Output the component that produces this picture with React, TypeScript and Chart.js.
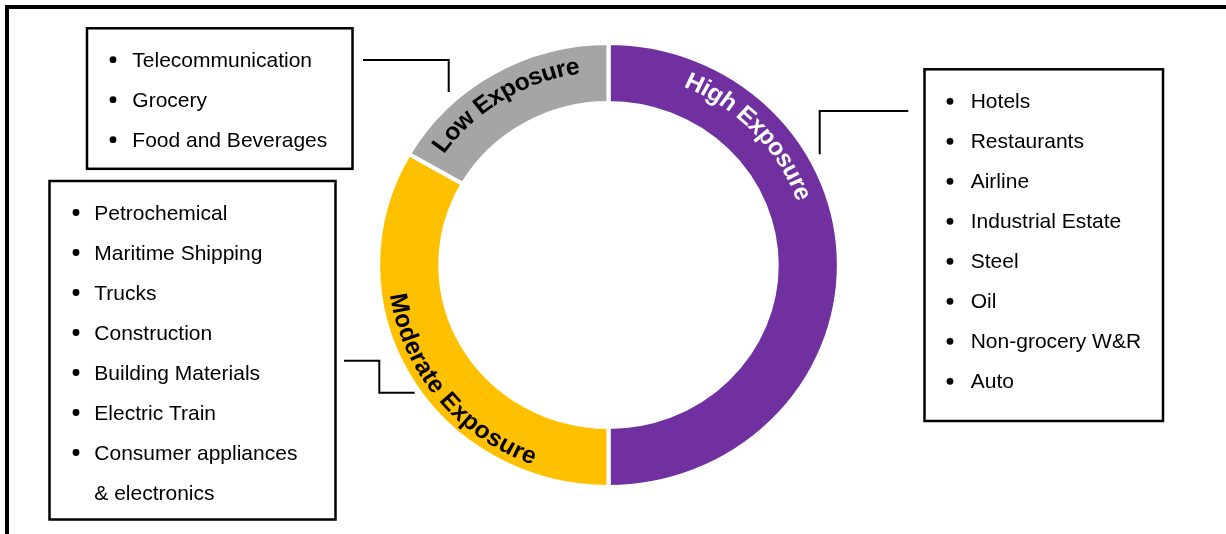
import { useEffect, useRef } from 'react';
import { Chart, registerables } from 'chart.js';

Chart.register(...registerables);

// ---- data ----
const segmentLabels = ['High Exposure', 'Moderate Exposure', 'Low Exposure'];
const segmentShares = [3, 2, 1];
const segmentColors = ['#7030A0', '#FFC000', '#A5A5A5'];
const labelColors = ['#FFFFFF', '#000000', '#000000'];

const highItems = ['Hotels', 'Restaurants', 'Airline', 'Industrial Estate', 'Steel', 'Oil', 'Non-grocery W&R', 'Auto'];
const moderateItems = ['Petrochemical', 'Maritime Shipping', 'Trucks', 'Construction', 'Building Materials', 'Electric Train', 'Consumer appliances\n& electronics'];
const lowItems = ['Telecommunication', 'Grocery', 'Food and Beverages'];

// ---- layout / style ----
const FONT_FAMILY = '"Liberation Sans", Arial, Helvetica, sans-serif';
const STRETCH_X = 1.038;
const OUTER_R = 222;
const INNER_R = 162;
// where along each arc the label is centred (fraction of the arc) and whether it reads clockwise (tops outward)
const labelPlacement = [
  { frac: 0.258, outward: true, r: 199 },
  { frac: 0.425, outward: false, r: 206 },
  { frac: 0.475, outward: true, r: 200 },
];

const boxLayout = [
  { items: highItems, x: 924.5, y: 69.3, w: 238.5, h: 351.7, bulletX: 950, textX: 970.7, baseline: 108.3 },
  { items: moderateItems, x: 49.5, y: 181, w: 286, h: 338.5, bulletX: 76, textX: 94.3, baseline: 219.5 },
  { items: lowItems, x: 87, y: 28.3, w: 265.5, h: 140.5, bulletX: 113, textX: 132.3, baseline: 66.7 },
];

const connectors: number[][][] = [
  [[908.3, 111], [819.7, 111], [819.7, 154.3]],
  [[344, 360.7], [379.3, 360.7], [379.3, 392.7], [414.7, 392.7]],
  [[363, 60], [448.7, 60], [448.7, 92]],
];

function drawArcText(
  ctx: CanvasRenderingContext2D,
  text: string,
  cx: number,
  cy: number,
  r: number,
  centerAngle: number,
  outward: boolean,
  color: string,
) {
  ctx.save();
  ctx.font = `bold 24px ${FONT_FAMILY}`;
  ctx.fillStyle = color;
  ctx.textAlign = 'center';
  ctx.textBaseline = 'middle';
  const chars = Array.from(text);
  const total = ctx.measureText(text).width;
  const widths = chars.map((c) => ctx.measureText(c).width);
  const sum = widths.reduce((s, w) => s + w, 0);
  const k = total / sum;
  const dir = outward ? 1 : -1;
  let theta = centerAngle - (dir * total) / 2 / r;
  chars.forEach((c, i) => {
    const w = widths[i] * k;
    const mid = theta + (dir * w) / 2 / r;
    const px = cx + r * Math.sin(mid);
    const py = cy - r * Math.cos(mid);
    ctx.save();
    ctx.translate(px, py);
    ctx.rotate(outward ? mid : mid - Math.PI);
    ctx.fillText(c, 0, 0);
    ctx.restore();
    theta += (dir * w) / r;
  });
  ctx.restore();
}

const ringPlugin = {
  id: 'ringDecor',
  beforeDatasetsDraw(chart: any) {
    const arc = chart.getDatasetMeta(0).data[0] as any;
    const ctx = chart.ctx as CanvasRenderingContext2D;
    ctx.save();
    ctx.translate(arc.x, arc.y);
    ctx.scale(STRETCH_X, 1);
    ctx.translate(-arc.x, -arc.y);
  },
  afterDatasetsDraw(chart: any) {
    const ctx = chart.ctx as CanvasRenderingContext2D;
    const arcs = chart.getDatasetMeta(0).data as any[];
    arcs.forEach((arc, i) => {
      const p = labelPlacement[i];
      // chart.js angles: 0 = 3 o'clock; convert to clockwise-from-top
      const s = arc.startAngle + Math.PI / 2;
      const e = arc.endAngle + Math.PI / 2;
      const ang = s + (e - s) * p.frac;
      drawArcText(ctx, segmentLabels[i], arc.x, arc.y, p.r, ang, p.outward, labelColors[i]);
    });
    ctx.restore();
  },
  afterDraw(chart: any) {
    const ctx = chart.ctx as CanvasRenderingContext2D;
    ctx.save();
    // outer frame (top and left edges)
    ctx.fillStyle = '#000000';
    ctx.fillRect(5, 5, 1221, 4);
    ctx.fillRect(5, 5, 4, 529);

    // connectors
    ctx.strokeStyle = '#000000';
    ctx.lineWidth = 2;
    ctx.lineJoin = 'miter';
    connectors.forEach((pts) => {
      ctx.beginPath();
      pts.forEach(([x, y], j) => (j === 0 ? ctx.moveTo(x, y) : ctx.lineTo(x, y)));
      ctx.stroke();
    });

    // boxes with bullet lists
    ctx.font = `21px ${FONT_FAMILY}`;
    ctx.textAlign = 'left';
    ctx.textBaseline = 'alphabetic';
    boxLayout.forEach((b) => {
      ctx.lineWidth = 2.5;
      ctx.strokeRect(b.x, b.y, b.w, b.h);
      let line = 0;
      b.items.forEach((item) => {
        item.split('\n').forEach((part, j) => {
          const base = b.baseline + line * 40;
          if (j === 0) {
            ctx.beginPath();
            ctx.arc(b.bulletX, base - 7, 3.4, 0, Math.PI * 2);
            ctx.fill();
          }
          ctx.fillText(part, b.textX, base);
          line += 1;
        });
      });
    });
    ctx.restore();
  },
};

export default function App() {
  const canvasRef = useRef<HTMLCanvasElement | null>(null);

  useEffect(() => {
    const canvas = canvasRef.current;
    if (!canvas) return;
    const chart = new Chart(canvas, {
      type: 'doughnut',
      data: {
        labels: segmentLabels,
        datasets: [
          {
            data: segmentShares,
            backgroundColor: segmentColors,
            borderColor: '#FFFFFF',
            borderWidth: 4,
            hoverOffset: 0,
          },
        ],
      },
      options: {
        responsive: false,
        maintainAspectRatio: false,
        animation: false,
        rotation: 0,
        radius: OUTER_R,
        cutout: `${(INNER_R / OUTER_R) * 100}%`,
        layout: { padding: { left: 0, right: 9, top: 0, bottom: 4 } },
        plugins: {
          legend: { display: false },
          tooltip: { enabled: false },
        },
        events: [],
      } as any,
      plugins: [ringPlugin],
    });
    return () => chart.destroy();
  }, []);

  return (
    <div style={{ position: 'absolute', left: 0, top: 0, width: 1226, height: 534, background: '#fff' }}>
      <canvas ref={canvasRef} width={1226} height={534} style={{ display: 'block' }} />
    </div>
  );
}
